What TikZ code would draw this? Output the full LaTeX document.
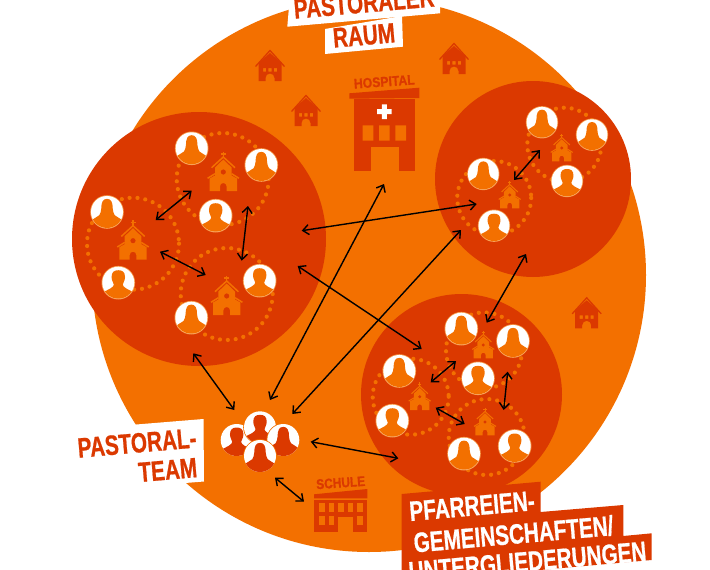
\documentclass[tikz,border=0pt]{standalone}
\usepackage{fontspec}
\usepackage{graphicx}
\newfontfamily\lab[FakeStretch=0.74,FakeBold=0.7,UprightFont={* Bold}]{Liberation Sans}
\definecolor{org}{HTML}{F37000}
\definecolor{rd}{HTML}{DB3900}
\usetikzlibrary{arrows.meta}
\tikzset{
  link/.style={black,line width=1.4pt,{Straight Barb[length=6pt,width=10pt]}-{Straight Barb[length=6pt,width=10pt]}},
  ring/.style={org,line width=4.2pt,line cap=round,dash pattern=on 0pt off 7.9pt},
  bubble/.style={circle,fill=rd,inner sep=0pt,minimum size=#1},
  capt/.style={font=\lab\fontsize{28}{30}\selectfont,inner sep=0pt,anchor=center,rotate=5},
  smallcapt/.style={font=\lab\fontsize{14}{15}\selectfont,inner sep=0pt,anchor=center,rotate=4,rd},
}
\newcommand{\fem}[5]{\begin{scope}[shift={(#1,#2)},scale=#3]
 \fill[#5] (0,0) circle (1.05);
 \fill[white] (0,0) circle (1);
 \begin{scope}\clip (0,0) circle (1);
 \fill[#4] (-.36,-.2) .. controls (-.36,-.62) and (-.25,-.82) .. (0,-.82) .. controls (.25,-.82) and (.36,-.62) .. (.36,-.2) .. controls (.36,-.05) and (.42,.08) .. (.48,.2) -- (1.1,.6) -- (1.1,1.2) -- (-1.1,1.2) -- (-1.1,.6) -- (-.48,.2) .. controls (-.42,.08) and (-.36,-.05) .. (-.36,-.2) -- cycle;
 \end{scope}\end{scope}}
\newcommand{\mal}[5]{\begin{scope}[shift={(#1,#2)},scale=#3]
 \fill[#5] (0,0) circle (1.05);
 \fill[white] (0,0) circle (1);
 \begin{scope}\clip (0,0) circle (1);
 \fill[#4] (-.42,-.35) .. controls (-.42,-.68) and (-.25,-.78) .. (0,-.78) .. controls (.25,-.78) and (.42,-.68) .. (.42,-.35) .. controls (.42,-.1) and (.28,0) .. (.28,.12) .. controls (.3,.28) and (.5,.38) .. (1.1,.66) -- (1.1,1.2) -- (-1.1,1.2) -- (-1.1,.66) .. controls (-.5,.38) and (-.3,.28) .. (-.28,.12) .. controls (-.28,0) and (-.42,-.1) .. (-.42,-.35) -- cycle;
 \end{scope}\end{scope}}
\newcommand{\church}[3]{\begin{scope}[shift={(#1,#2)},scale=#3]
 \fill[org,even odd rule] (-13.7,0) -- (-13.7,-12.5) -- (-8.3,-15.5) -- (-8.3,-23.5) -- (0,-31.5) -- (8.3,-23.5) -- (8.3,-15.5) -- (13.7,-12.5) -- (13.7,0) -- (3.3,0) -- (3.3,-4.7) arc (0:-180:3.3) -- (-3.3,0) -- cycle (2.7,-19) arc (0:360:2.7);
 \draw[org,line width=#3*1.5pt] (-15.7,-12.7) -- (-8.3,-17.3) (15.7,-12.7) -- (8.3,-17.3) (-11.7,-23.3) -- (0,-34) -- (11.7,-23.3);
 \draw[org,line width=#3*1.3pt] (0,-34) -- (0,-39.5) (-2.5,-37) -- (2.5,-37);
\end{scope}}
\newcommand{\house}[2]{\begin{scope}[shift={(#1,#2)}]
 \fill[rd,even odd rule] (-11.5,0) -- (-11.5,-18) -- (0,-28) -- (11.5,-18) -- (11.5,0) -- (4.5,0) -- (4.5,-3) arc (0:-180:4.5) -- (-4.5,0) -- cycle
   (-7,-13) rectangle (-3.8,-9.5) (-1.6,-13) rectangle (1.6,-9.5) (3.8,-13) rectangle (7,-9.5);
 \draw[rd,line width=1.3pt] (-14.5,-14.5) -- (0,-30.5) -- (14.5,-14.5);
\end{scope}}
\begin{document}
\begin{tikzpicture}[x=1pt,y=-1pt]
\useasboundingbox (0,0) rectangle (710,570);
\clip (0,0) rectangle (710,570);
\fill[white] (0,0) rectangle (710,570);
\fill[org] (369,275) circle (277);
\fill[white] (20,434) -- (203.5,419) -- (204,481.5) -- (135,487) -- (20,487) -- cycle;
\node[bubble=254pt] (b1) at (199,239) {};
\node[bubble=196pt] (b2) at (533,179) {};
\node[bubble=201pt] (b3) at (461.5,394.5) {};
\foreach \x/\y/\r in {222.7/179/46,133/243.7/46,226.7/294/46,564.3/144.7/37,494.2/198/37,484/350.4/38,410.7/396.7/38,486.7/437/38}
  \draw[ring] (\x,\y) circle (\r);
\church{223.3}{191}{1}\church{133}{259.7}{1}\church{226.7}{315}{1}
\church{561.7}{161.3}{.7}\church{509.7}{208.3}{.7}
\church{483.3}{358.3}{.7}\church{419.7}{410}{.7}\church{485}{435.3}{.7}
\fem{191.7}{148.3}{16}{org}{org!70!white}\fem{261.3}{165}{16}{org}{org!70!white}\mal{215.7}{215.7}{16}{org}{org!70!white}
\fem{107}{212}{16}{org}{org!70!white}\mal{118.3}{282.7}{16}{org}{org!70!white}\mal{259.7}{280.7}{16}{org}{org!70!white}\fem{191.3}{317.7}{16}{org}{org!70!white}
\fem{542}{122.3}{15.4}{org}{org!70!white}\fem{592}{134.7}{15.4}{org}{org!70!white}\mal{567}{181}{15.4}{org}{org!70!white}
\fem{483.3}{174}{15.4}{org}{org!70!white}\mal{494}{225.7}{15.4}{org}{org!70!white}
\fem{461.3}{328.7}{16}{org}{org!70!white}\fem{513}{341}{16}{org}{org!70!white}\mal{478}{378.3}{16}{org}{org!70!white}
\fem{399.3}{371}{16}{org}{org!70!white}\mal{392.3}{420.7}{16}{org}{org!70!white}\fem{464}{453.7}{16}{org}{org!70!white}\mal{514.7}{446}{16}{org}{org!70!white}
\mal{236.7}{440}{16}{rd}{org}\mal{260}{427.3}{16}{rd}{org}\fem{283.3}{440}{16}{rd}{org}\fem{260}{456}{16}{rd}{org}
\house{270}{81}\house{306}{126}\house{454}{74}\house{586.7}{328.3}
\fill[rd] (354,98.7) rectangle (415,171);
\fill[org] (371,147) rectangle (399,171);
\fill[org] (362.7,125.3) rectangle (373.3,140.7) (379,125.3) rectangle (389.7,140.7) (395.3,125.3) rectangle (406,140.7);
\fill[rd] (349.3,93.3) -- (419.3,87.7) -- (419.3,98) -- (349.3,98.7) -- cycle;
\fill[white] (381.8,104.3) rectangle (386.8,119) (377,109.2) rectangle (391.7,114.2);
\node[smallcapt] (hosp) at (384.3,81.7) {\scalebox{1.18}[1]{HOSPITAL}};
\fill[rd] (314,494.3) -- (367.3,489) -- (367.3,498.3) -- (314,498.3) -- cycle;
\fill[rd] (314,500) rectangle (367.3,532.3);
\foreach \x in {319.3,328.7,338,347.7,357} \fill[org] (\x,502.7) rectangle ++(5.7,9);
\foreach \x in {319.3,328.7,357} \fill[org] (\x,515.7) rectangle ++(5.7,9.3);
\fill[org] (338,516.7) rectangle (353.3,532.3);
\node[smallcapt] (schule) at (340.7,482.7) {\scalebox{1.15}[1]{SCHULE}};
\coordinate (a1) at (191.7,190.7);\coordinate (a2) at (155.7,220);
\draw[link] (a1) -- (a2);
\coordinate (a3) at (248,206);\coordinate (a4) at (241.7,260.7);
\draw[link] (a3) -- (a4);
\coordinate (a5) at (160,251.7);\coordinate (a6) at (205.7,275);
\draw[link] (a5) -- (a6);
\coordinate (c1) at (540,150);\coordinate (c2) at (514,180);
\draw[link] (c1) -- (c2);
\coordinate (d1) at (456,361);\coordinate (d2) at (430.7,382.3);
\draw[link] (d1) -- (d2);
\coordinate (d3) at (507.7,371.7);\coordinate (d4) at (503.7,410);
\draw[link] (d3) -- (d4);
\coordinate (d5) at (435.7,407.7);\coordinate (d6) at (464.7,424);
\draw[link] (d5) -- (d6);
\coordinate (e1) at (301.7,230.7);\coordinate (e2) at (476.7,204);
\draw[link] (e1) -- (e2);
\coordinate (e3) at (297.7,266);\coordinate (e4) at (421.7,349);
\draw[link] (e3) -- (e4);
\coordinate (e5) at (270,400);\coordinate (e6) at (384,184);
\draw[link] (e5) -- (e6);
\coordinate (e7) at (292.3,414);\coordinate (e8) at (461,230);
\draw[link] (e7) -- (e8);
\coordinate (e9) at (526,254);\coordinate (e10) at (486.7,322.7);
\draw[link] (e9) -- (e10);
\coordinate (f1) at (193.3,353.3);\coordinate (f2) at (234.3,410);
\draw[link] (f1) -- (f2);
\coordinate (f3) at (310.7,441.7);\coordinate (f4) at (398.3,458.3);
\draw[link] (f3) -- (f4);
\coordinate (f5) at (275,477.7);\coordinate (f6) at (304,501.7);
\draw[link] (f5) -- (f6);
\fill[white] (287.3,26.7) -- (440,13.3) -- (440,-5) -- (290,-5) -- cycle;
\fill[white] (325,29) -- (402,16) -- (403,46.7) -- (325,54) -- cycle;
\node[capt,rd] (raum1) at (364,3) {PASTORALER};
\node[capt,rd] (raum2) at (364,35.5) {RAUM};
\node[capt,rd] (team1) at (137,443) {PASTORAL-};
\node[capt,rd] (team2) at (167.7,470) {TEAM};
\fill[rd] (401.7,494) -- (540.7,481.7) -- (540.7,512) -- (623.3,505) -- (623.3,536) -- (651.7,533.3) -- (651.7,560) -- (540,570) -- (401.7,575) -- cycle;
\node[capt,white] (p1) at (472,506) {PFARREIEN-};
\node[capt,white] (p2) at (513.5,534) {GEMEINSCHAFTEN/};
\node[capt,white] (p3) at (527.5,561.5) {UNTERGLIEDERUNGEN};
\end{tikzpicture}
\end{document}
